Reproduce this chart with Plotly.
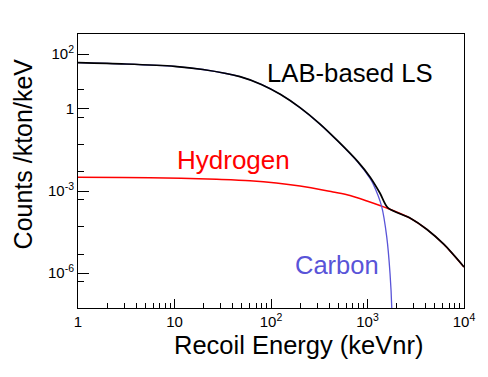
import plotly.graph_objects as go

# recoil energy (keVnr) and rate (counts/kton/keV)
total_e = [1, 3.07, 10, 19.7, 47.7, 79.4, 126, 200, 316, 501, 794, 1062, 1349, 1630,
           2756, 4139, 6205, 10000]
total_v = [48.2, 43.2, 35.5, 27.2, 15.0, 7.76, 3.31, 1.10, 0.294, 0.063, 0.0118, 3.26e-3,
           8.3e-4, 2.41e-4, 1.04e-4, 3.95e-5, 1.12e-5, 1.69e-6]

hydrogen_e = [1, 5.57, 27.4, 60.6, 200, 439, 659, 988, 1630, 2756, 4139, 6205, 10000]
hydrogen_v = [3.18e-3, 3.07e-3, 2.69e-3, 2.39e-3, 1.53e-3, 9.2e-4, 6.9e-4, 4.33e-4,
              2.3e-4, 1.03e-4, 3.93e-5, 1.11e-5, 1.68e-6]

carbon_e = [1, 3.07, 10, 19.7, 47.7, 79.4, 126, 200, 316, 501, 794, 1062, 1148, 1403,
            1581, 1711, 1782, 1795]
carbon_v = [48.1, 43.1, 35.5, 27.2, 15.0, 7.76, 3.31, 1.10, 0.293, 0.062, 0.0113, 2.86e-3,
            1.75e-3, 2.69e-4, 2.16e-5, 1e-6, 6e-8, 1e-9]

x_ticks = [1, 10, 100, 1000, 10000]
x_labels = ["1", "10", "10<sup>2</sup>", "10<sup>3</sup>", "10<sup>4</sup>"]
y_ticks = [1e-6, 1e-3, 1, 100]
y_labels = ["10<sup>-6</sup>", "10<sup>-3</sup>", "1", "10<sup>2</sup>"]
y_decades = [10.0 ** d for d in range(-7, 3)]

FONT = "Liberation Sans, Arial, sans-serif"
BLUE = "#5954d8"
Y_RANGE = [-7.27, 2.73]

fig = go.Figure()
fig.add_trace(go.Scatter(x=hydrogen_e, y=hydrogen_v, mode="lines",
                         line=dict(color="#ff0000", width=1.5, shape="spline", smoothing=0.8)))
fig.add_trace(go.Scatter(x=carbon_e, y=carbon_v, mode="lines",
                         line=dict(color=BLUE, width=1.3, shape="spline", smoothing=0.8)))
fig.add_trace(go.Scatter(x=total_e, y=total_v, mode="lines",
                         line=dict(color="#000000", width=1.7, shape="spline", smoothing=0.8)))

x_minor = [m * 10 ** d for d in range(4) for m in range(2, 10)]
y_minor = [5 * 10 ** d for d in range(-8, 3)]

fig.update_xaxes(
    type="log", range=[0, 4], showgrid=False, zeroline=False, automargin=False,
    showline=True, linecolor="black", linewidth=1, mirror=True,
    tickmode="array", tickvals=x_ticks, ticktext=x_labels,
    ticks="inside", ticklen=9, tickcolor="black",
    minor=dict(tickvals=x_minor, ticks="inside", ticklen=5, tickcolor="black"),
    tickfont=dict(family=FONT, size=15, color="black"),
)
fig.update_yaxes(
    type="log", range=Y_RANGE, showgrid=False, zeroline=False, automargin=False,
    showline=True, linecolor="black", linewidth=1, mirror=True,
    tickmode="array", tickvals=y_ticks, ticktext=y_labels,
    ticks="inside", ticklen=11, tickcolor="black",
    minor=dict(tickvals=y_minor, ticks="inside", ticklen=6, tickcolor="black"),
    tickfont=dict(family=FONT, size=15, color="black"),
)
# unlabeled long ticks at every decade
fig.update_layout(yaxis2=dict(
    overlaying="y", anchor="x", side="left", type="log", range=Y_RANGE,
    showgrid=False, zeroline=False, showline=False, automargin=False,
    tickmode="array", tickvals=y_decades, showticklabels=False,
    ticks="inside", ticklen=11, tickcolor="black",
))

# ROOT-style axis titles sit toward the high end of each axis
fig.add_annotation(text="Recoil Energy (keVnr)", x=0.5725, y=-0.135, xref="paper", yref="paper",
                   showarrow=False, xanchor="center", yanchor="middle",
                   font=dict(family=FONT, size=25.5, color="black"))
fig.add_annotation(text="Counts /kton/keV", x=-0.14, y=0.564, xref="paper", yref="paper",
                   showarrow=False, xanchor="center", yanchor="middle", textangle=-90,
                   font=dict(family=FONT, size=25, color="black"))

fig.add_annotation(text="LAB-based LS", x=0.925, y=0.858, xref="paper", yref="paper",
                   showarrow=False, xanchor="right", yanchor="middle",
                   font=dict(family=FONT, size=25.7, color="black"))
fig.add_annotation(text="Hydrogen", x=0.251, y=0.54, xref="paper", yref="paper",
                   showarrow=False, xanchor="left", yanchor="middle",
                   font=dict(family=FONT, size=26, color="#ff0000"))
fig.add_annotation(text="Carbon", x=0.557, y=0.157, xref="paper", yref="paper",
                   showarrow=False, xanchor="left", yanchor="middle",
                   font=dict(family=FONT, size=25.5, color=BLUE))

# the page body adds an 8px offset, so the figure is 8px smaller than the window
fig.update_layout(
    width=480, height=369, showlegend=False,
    margin=dict(l=70, r=24, t=26, b=69),
    paper_bgcolor="white", plot_bgcolor="white",
)

fig.write_html("out.html")
